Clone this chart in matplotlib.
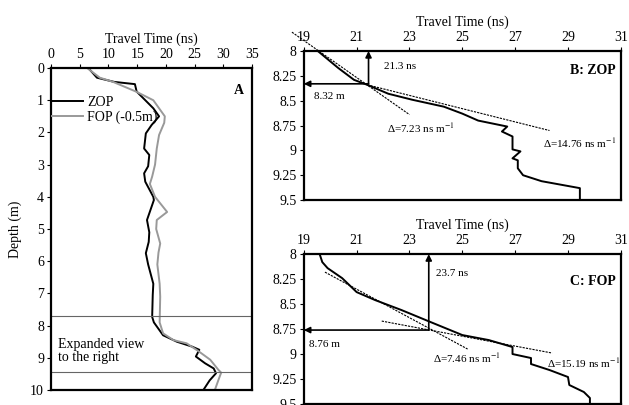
import matplotlib
matplotlib.use("Agg")
import matplotlib.pyplot as plt
from matplotlib.ticker import FormatStrFormatter

plt.rcParams['font.family'] = ['Liberation Serif', 'DejaVu Serif']
plt.rcParams['mathtext.fontset'] = 'stix'

# panel A: full profiles (travel time ns vs depth m)
zop_depth = [0.0, 0.3, 0.43, 0.5, 0.73, 1.25, 1.5, 1.77, 2.03, 2.5, 2.7, 3.05, 3.27, 3.53, 4.0,
             4.1, 4.72, 5.1, 5.4, 5.75, 6.1, 6.7, 7.05, 7.73, 7.9, 8.3, 8.5, 8.65, 8.75, 8.96,
             9.17, 9.33, 9.48, 9.7, 10.0]
zop_time = [6.5, 8.0, 11.0, 14.6, 14.9, 17.8, 18.8, 17.5, 16.5, 16.2, 17.1, 16.9, 16.2, 16.4, 17.8,
            17.9, 16.7, 17.1, 17.0, 16.5, 16.9, 17.8, 17.7, 17.6, 17.9, 19.5, 21.9, 24.5, 25.8, 25.2,
            26.8, 28.3, 28.7, 27.6, 26.5]
fop_depth = [0.0, 0.3, 0.43, 0.74, 1.0, 1.25, 1.5, 1.7, 2.08, 2.5, 3.0, 3.37, 3.6, 4.0, 4.47,
             4.72, 5.0, 5.45, 5.73, 6.1, 6.7, 7.1, 7.9, 8.24, 8.45, 8.55, 8.8, 9.06, 9.37, 9.46,
             9.7, 9.95]
fop_time = [6.3, 8.5, 10.8, 14.9, 17.8, 18.8, 19.8, 19.7, 18.8, 18.4, 18.1, 17.6, 17.2, 18.1, 20.2,
            18.4, 18.3, 19.0, 18.7, 18.5, 18.9, 19.0, 18.9, 19.5, 21.3, 23.6, 25.7, 27.7, 29.1, 29.6,
            29.1, 28.6]
band_depths = [7.7, 9.45]

# panel B: ZOP expanded
b_depth = [8.0, 8.17, 8.29, 8.34, 8.43, 8.49, 8.56, 8.63, 8.70, 8.76, 8.81, 8.86, 8.99, 9.01,
           9.08, 9.10, 9.18, 9.25, 9.31, 9.38, 9.5]
b_time = [19.53, 20.3, 20.9, 21.4, 22.2, 23.1, 24.3, 25.0, 25.6, 26.7, 26.5, 26.9, 26.9, 27.2,
          26.9, 27.1, 27.1, 27.3, 28.0, 29.45, 29.45]
b_tan1 = ([18.55, 23.0], [7.81, 8.64])
b_tan2 = ([21.4, 28.3], [8.34, 8.80])
b_pick = (21.45, 8.33)

# panel C: FOP expanded
c_depth = [8.0, 8.08, 8.14, 8.24, 8.38, 8.46, 8.56, 8.68, 8.81, 8.86, 8.93, 9.0, 9.04, 9.1,
           9.16, 9.23, 9.31, 9.38, 9.44, 9.5]
c_time = [19.6, 19.7, 19.9, 20.45, 21.0, 21.7, 22.7, 23.8, 25.0, 26.0, 26.9, 26.9, 27.6, 27.6,
          28.3, 29.0, 29.05, 29.6, 29.83, 29.83]
c_tan1 = ([19.8, 25.2], [8.18, 8.95])
c_tan2 = ([21.95, 28.4], [8.67, 8.99])
c_pick = (23.73, 8.76)

fig = plt.figure(figsize=(6.29, 4.05), dpi=100)
axA = fig.add_axes([0.081, 0.037, 0.320, 0.795])
axB = fig.add_axes([0.483, 0.506, 0.504, 0.368])
axC = fig.add_axes([0.483, 0.0025, 0.504, 0.370])

for ax in (axA, axB, axC):
    ax.xaxis.tick_top()
    ax.xaxis.set_label_position('top')
    ax.tick_params(direction='out', length=3, width=0.8, labelsize=10, pad=2)
    for s in ax.spines.values():
        s.set_linewidth(1.6)
    ax.set_xlabel('Travel Time (ns)', fontsize=10, labelpad=4)

# panel A
axA.plot(zop_time, zop_depth, color='black', lw=1.4, label='ZOP')
axA.plot(fop_time, fop_depth, color='#999999', lw=1.4, label='FOP (-0.5m)')
for d in band_depths:
    axA.axhline(d, color='#666666', lw=0.8)
axA.set_xlim(0, 35)
axA.set_ylim(10, 0)
axA.set_xticks(range(0, 36, 5))
axA.set_yticks(range(0, 11))
axA.set_ylabel('Depth (m)', fontsize=10, labelpad=6)
axA.legend(loc='upper left', bbox_to_anchor=(-0.02, 0.93), frameon=False, fontsize=10,
           handlelength=2.2, handletextpad=0.3, labelspacing=0.1, borderaxespad=0)
axA.text(0.96, 0.95, 'A', transform=axA.transAxes, fontsize=10, fontweight='bold',
         ha='right', va='top')
axA.text(1.3, 8.8, 'Expanded view\nto the right', fontsize=10, ha='left', va='center',
         linespacing=1.0)


def detail(ax, t, d, tan1, tan2, pick, labels, tag):
    ax.plot(t, d, color='black', lw=1.4)
    ax.plot(tan1[0], tan1[1], color='black', lw=0.8, ls=(0, (2, 1)), clip_on=False)
    ax.plot(tan2[0], tan2[1], color='black', lw=0.8, ls=(0, (2, 1)), clip_on=False)
    ax.set_xlim(19, 31)
    ax.set_ylim(9.5, 8)
    ax.set_xticks(range(19, 32, 2))
    ax.set_yticks([8, 8.25, 8.5, 8.75, 9, 9.25, 9.5])
    ax.yaxis.set_major_formatter(FormatStrFormatter('%g'))
    pt, pd = pick
    ax.annotate('', xy=(pt, 8.0), xytext=(pt, pd),
                arrowprops=dict(arrowstyle='-|>', color='black', lw=1.2, mutation_scale=9,
                                shrinkA=0, shrinkB=0))
    ax.annotate('', xy=(19.0, pd), xytext=(pt, pd),
                arrowprops=dict(arrowstyle='-|>', color='black', lw=1.2, mutation_scale=9,
                                shrinkA=0, shrinkB=0))
    for (x, y, s) in labels:
        ax.text(x, y, s, fontsize=8, ha='left', va='center')
    ax.text(0.985, 0.87 if tag.startswith('B') else 0.82, tag, transform=ax.transAxes,
            fontsize=10, fontweight='bold', ha='right', va='center')


detail(axB, b_time, b_depth, b_tan1, b_tan2, b_pick,
       [(22.05, 8.16, '21.3 ns'), (19.4, 8.46, '8.32 m'),
        (22.15, 8.78, 'Δ=7.23 ns m$^{-1}$'), (28.05, 8.93, 'Δ=14.76 ns m$^{-1}$')],
       'B: ZOP')
detail(axC, c_time, c_depth, c_tan1, c_tan2, c_pick,
       [(24.0, 8.19, '23.7 ns'), (19.2, 8.9, '8.76 m'),
        (23.9, 9.04, 'Δ=7.46 ns m$^{-1}$'), (28.2, 9.09, 'Δ=15.19 ns m$^{-1}$')],
       'C: FOP')

fig.savefig('out.png', dpi=100)
